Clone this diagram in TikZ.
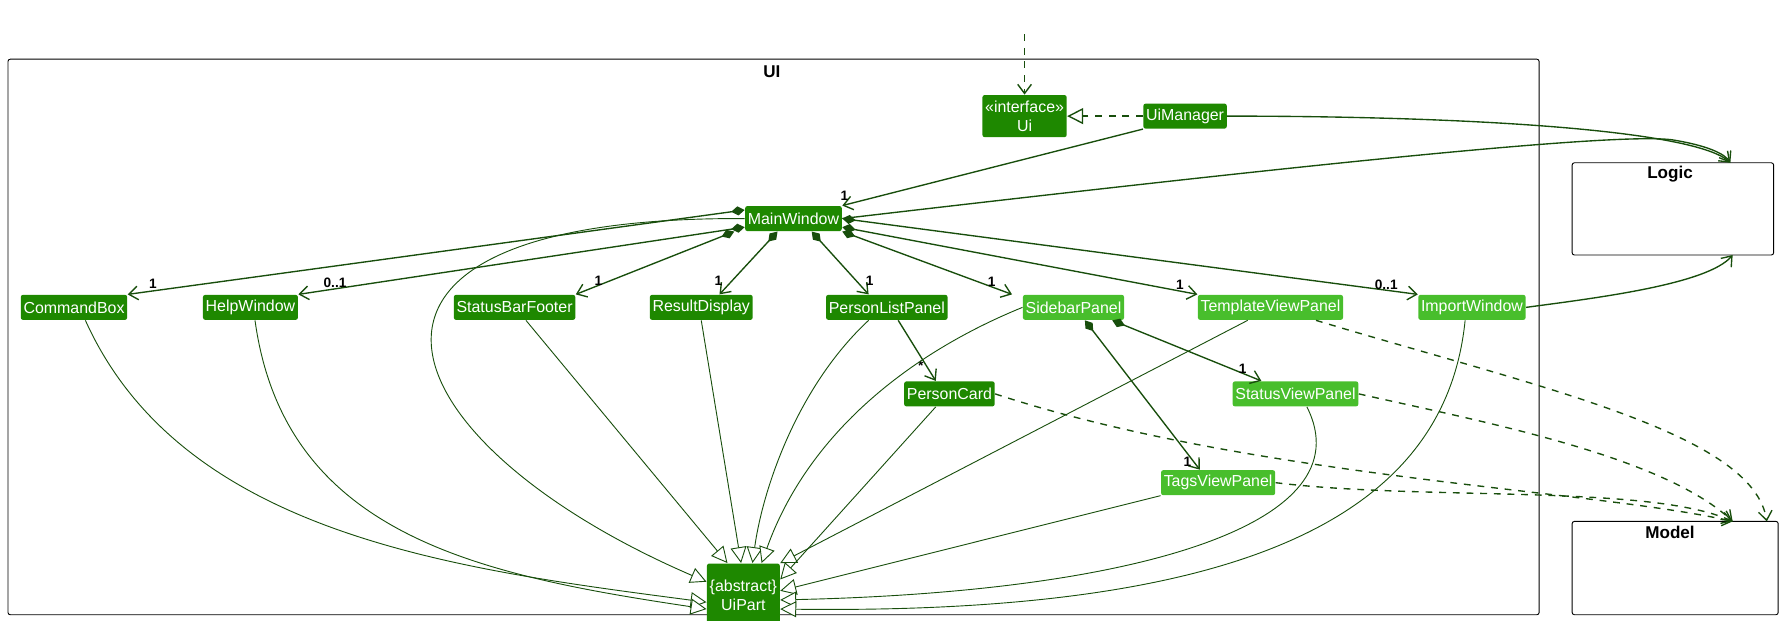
\documentclass[tikz,border=0pt]{standalone}
\usepackage{fontspec}
\setmainfont{Liberation Sans}
\usetikzlibrary{positioning,arrows.meta}
\definecolor{uidark}{RGB}{30,136,0}
\definecolor{uilight}{RGB}{72,190,44}
\definecolor{edgegreen}{RGB}{24,78,12}

\begin{document}
\begin{tikzpicture}[x=0.5pt, y=-0.5pt,
    cls/.style={rectangle, rounded corners=1pt, fill=uidark, text=white, font=\fontsize{7}{8.5}\selectfont,
        inner xsep=1.2pt, inner ysep=0pt, minimum height=11pt, align=center},
    light/.style={cls, fill=uilight},
    pkg/.style={draw=black, thin, rounded corners=1pt},
    assoc/.style={edgegreen, semithick, -{Straight Barb[length=4pt,width=6pt]}},
    comp/.style={edgegreen, semithick, {Diamond[length=6pt,width=4pt]}-{Straight Barb[length=4pt,width=6pt]}},
    inherit/.style={edgegreen, thin, -{Triangle[open,length=7pt,width=7pt,fill=white]}},
    dep/.style={edgegreen, semithick, dashed, -{Straight Barb[length=4pt,width=6pt]}},
    mult/.style={text=black, font=\fontsize{6}{6}\selectfont\bfseries, inner sep=1pt}]
\useasboundingbox (0,0) rectangle (1568,545);

% Packages
\draw[pkg] (7,52) rectangle (1352,540);
\node[font=\fontsize{7.5}{8}\selectfont\bfseries] (uilabel) at (678,63) {UI};
\draw[pkg] (1381,143) rectangle (1558,224);
\node[font=\fontsize{7.5}{8}\selectfont\bfseries] (logiclabel) at (1467,153) {Logic};
\draw[pkg] (1381,458) rectangle (1562,540);
\node[font=\fontsize{7.5}{8}\selectfont\bfseries] (modellabel) at (1467,468) {Model};
\coordinate (logictop) at (1520,143);
\coordinate (logicbot) at (1522,224);
\coordinate (modeltop) at (1522,458);
\coordinate (modeltop2) at (1552,458);
\coordinate (entry) at (900,30);

% Classes
\node[cls, minimum width=34.5pt, minimum height=18.5pt] (ui) at (900,102) {«interface»\\Ui};
\node[cls] (uimanager) at (1041,102) {UiManager};
\node[cls] (mainwindow) at (697,192) {MainWindow};
\node[cls] (commandbox) at (65,270) {CommandBox};
\node[cls] (helpwindow) at (220,270) {HelpWindow};
\node[cls] (statusbar) at (452,270) {StatusBarFooter};
\node[cls] (resultdisplay) at (616,270) {ResultDisplay};
\node[cls] (personlist) at (779,270) {PersonListPanel};
\node[light] (sidebar) at (943,270) {SidebarPanel};
\node[light] (templateview) at (1116,270) {TemplateViewPanel};
\node[light] (importwindow) at (1293,270) {ImportWindow};
\node[cls] (personcard) at (834,346) {PersonCard};
\node[light] (statusview) at (1138,346) {StatusViewPanel};
\node[light] (tagsview) at (1070,424) {TagsViewPanel};
\node[cls, minimum width=30pt, minimum height=28pt] (uipart) at (653,523) {\{abstract\}\\UiPart};

% Interface and outside links
\draw[dep] (entry) -- (ui.north);
\draw[edgegreen, semithick, dashed, -{Triangle[open,length=7pt,width=7pt,fill=white]}] (uimanager) -- (ui);
\draw[assoc] (uimanager.south west) -- (mainwindow.north east) node[mult, above left=0pt and 0pt, pos=0.97] {1};
\draw[assoc] (uimanager.east) .. controls (1300,102) and (1490,115) .. (logictop);
\draw[assoc] (mainwindow.east) .. controls (1100,150) and (1420,115) .. (1470,123) .. controls (1500,128) and (1515,135) .. (logictop);
\draw[assoc] (importwindow.east) .. controls (1400,262) and (1500,250) .. (logicbot);

% Composition from MainWindow
\draw[comp] (mainwindow.170) -- (commandbox.north east) node[mult, above right, pos=0.97] {1};
\draw[comp] (mainwindow.190) -- (helpwindow.north east) node[mult, above right, pos=0.95] {0..1};
\draw[comp] ([xshift=-26pt]mainwindow.south) -- (statusbar.north east) node[mult, above right, pos=0.9] {1};
\draw[comp] ([xshift=-7pt]mainwindow.south) -- ([xshift=8pt]resultdisplay.north) node[mult, above left, pos=0.9] {1};
\draw[comp] ([xshift=8pt]mainwindow.south) -- ([xshift=-8pt]personlist.north) node[mult, above right, pos=0.9] {1};
\draw[comp] (mainwindow.south east) -- ([xshift=-27pt]sidebar.north) node[mult, above left, pos=0.92] {1};
\draw[comp] (mainwindow.-10) -- (templateview.north west) node[mult, above left, pos=0.97] {1};
\draw[comp] (mainwindow.east) -- (importwindow.north west) node[mult, above left, pos=0.97] {0..1};
\draw[assoc] ([xshift=5pt]personlist.south) -- ([xshift=-6pt]personcard.north) node[mult, left, pos=0.75] {*};
\draw[comp] ([xshift=5pt]sidebar.south) -- ([xshift=-8pt]tagsview.north) node[mult, left, pos=0.95] {1};
\draw[comp] ([xshift=17pt]sidebar.south) -- ([xshift=-15pt]statusview.north) node[mult, above left, pos=0.92] {1};

% Inheritance to UiPart
\draw[inherit] ([xshift=5pt]commandbox.south) .. controls (160,470) and (400,500) .. ([yshift=-3pt]uipart.west);
\draw[inherit] ([xshift=2pt]helpwindow.south) .. controls (250,470) and (420,505) .. ([yshift=-6pt]uipart.west);
\draw[inherit] (mainwindow.west) .. controls (250,190) and (340,390) .. ([yshift=6pt]uipart.west);
\draw[inherit] ([xshift=5pt]statusbar.south) -- ([xshift=-7pt]uipart.north);
\draw[inherit] (resultdisplay.south) -- ([xshift=-1pt]uipart.north);
\draw[inherit] ([xshift=-8pt]personlist.south) .. controls (700,340) and (670,430) .. ([xshift=4pt]uipart.north);
\draw[inherit] (sidebar.west) .. controls (800,310) and (710,380) .. ([xshift=8pt]uipart.north);
\draw[inherit] ([xshift=-10pt]templateview.south) -- (uipart.north east);
\draw[inherit] ([xshift=-6pt]personcard.south) -- ([yshift=7pt]uipart.east);
\draw[inherit] (tagsview.south west) -- ([yshift=2pt]uipart.east);
\draw[inherit] ([xshift=5pt]statusview.south) .. controls (1200,460) and (1000,520) .. ([yshift=-2pt]uipart.east);
\draw[inherit] ([xshift=-3pt]importwindow.south) .. controls (1270,450) and (1100,540) .. ([yshift=-6pt]uipart.east);

% Dependencies on Model
\draw[dep] (personcard.east) .. controls (1100,420) and (1400,430) .. (modeltop);
\draw[dep] (tagsview.east) .. controls (1250,440) and (1450,425) .. (modeltop);
\draw[dep] (statusview.east) .. controls (1300,370) and (1460,400) .. (modeltop);
\draw[dep] ([xshift=20pt]templateview.south) .. controls (1350,340) and (1540,380) .. (modeltop2);
\end{tikzpicture}
\end{document}
